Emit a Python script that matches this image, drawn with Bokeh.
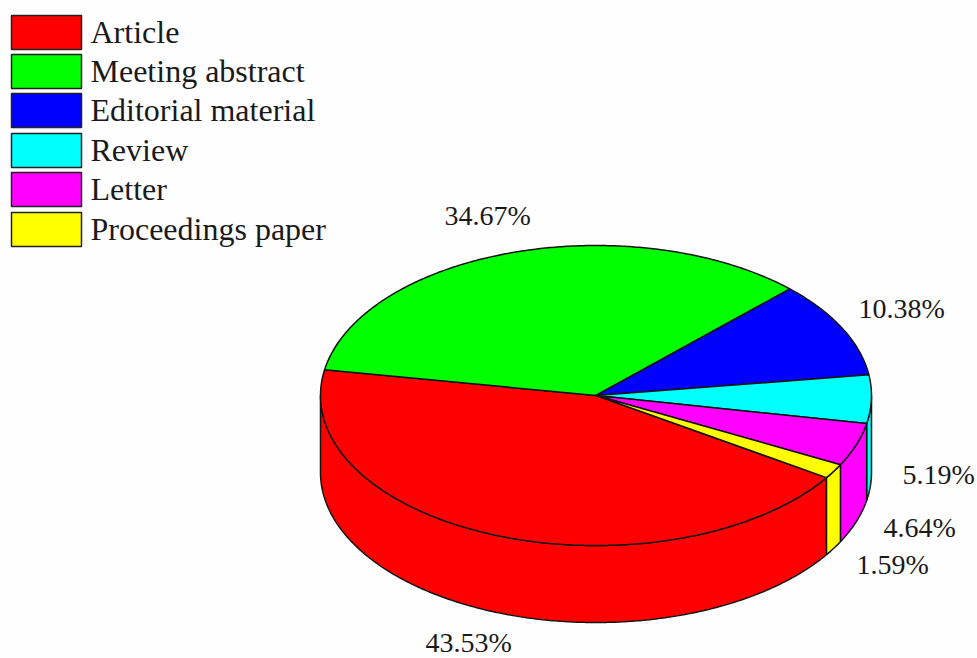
import numpy as np
from bokeh.core.properties import value
from bokeh.embed import file_html
from bokeh.models import Range1d
from bokeh.plotting import figure
from bokeh.resources import INLINE

# Document types and their share of publications, in legend order
categories = ["Article", "Meeting abstract", "Editorial material", "Review", "Letter", "Proceedings paper"]
shares = [43.53, 34.67, 10.38, 5.19, 4.64, 1.59]
colors = ["#ff0000", "#00ff00", "#0000ff", "#00ffff", "#ff00ff", "#ffff00"]
share_labels = ["43.53%", "34.67%", "10.38%", "5.19%", "4.64%", "1.59%"]

# Disc geometry in page units; angles run clockwise on screen from the +x axis
CX, CY, RX, RY, DEPTH = 595.5, 395, 275.5, 150, 77
RED_START = 33.2
FONT = value("Liberation Serif")
OUTLINE = "#141414"

# Left-middle anchor of each percentage label, in legend order
label_x = [425, 444, 858, 902, 883, 856]
label_y = [642, 215, 308, 474, 527, 564]

p = figure(width=977, height=658, output_backend="svg", toolbar_location=None,
           x_range=Range1d(0, 977), y_range=Range1d(658, 0), min_border=0,
           x_axis_location=None, y_axis_location=None, outline_line_color=None,
           background_fill_color="#fefefe", border_fill_color="#fefefe")
p.grid.visible = False


def rim(a0, a1, dy=0.0):
    t = np.radians(np.linspace(a0, a1, max(3, int(abs(a1 - a0) * 2))))
    return CX + RX * np.cos(t), CY + dy + RY * np.sin(t)


# Each slice's angular span, starting from the Article slice's leading edge
spans = []
start = RED_START
for s in shares:
    spans.append((start, start + s * 3.6))
    start += s * 3.6

# Outer walls: only the part of each slice facing the viewer (0..180 degrees)
for (a0, a1), c in zip(spans, colors):
    for shift in (0, -360):
        lo, hi = max(a0 + shift, 0), min(a1 + shift, 180)
        if hi > lo:
            xt, yt = rim(lo, hi)
            xb, yb = rim(hi, lo, DEPTH)
            p.patch(np.r_[xt, xb], np.r_[yt, yb], fill_color=c,
                    line_color=OUTLINE, line_width=1.5)

# Top faces of the slices
for (a0, a1), c in zip(spans, colors):
    xt, yt = rim(a0, a1)
    p.patch(np.r_[CX, xt], np.r_[CY, yt], fill_color=c,
            line_color=OUTLINE, line_width=1.5)

# Percentage labels
p.text(label_x, label_y, text=share_labels, text_font=FONT, text_font_size="28px",
       text_color="#1a1a1a", text_align="left", text_baseline="middle")

# Legend swatches and names
box_top = [15, 54, 93, 133, 172, 212]
p.quad(left=[11] * 6, right=[81] * 6, top=box_top, bottom=[t + 34 for t in box_top],
       fill_color=colors, line_color="#222222", line_width=1.5)
p.text([90] * 6, [t + 16 for t in box_top], text=categories, text_font=FONT,
       text_font_size="32px", text_color="#1a1a1a", text_align="left",
       text_baseline="middle")

open("out.html", "w").write(file_html(p, INLINE))
